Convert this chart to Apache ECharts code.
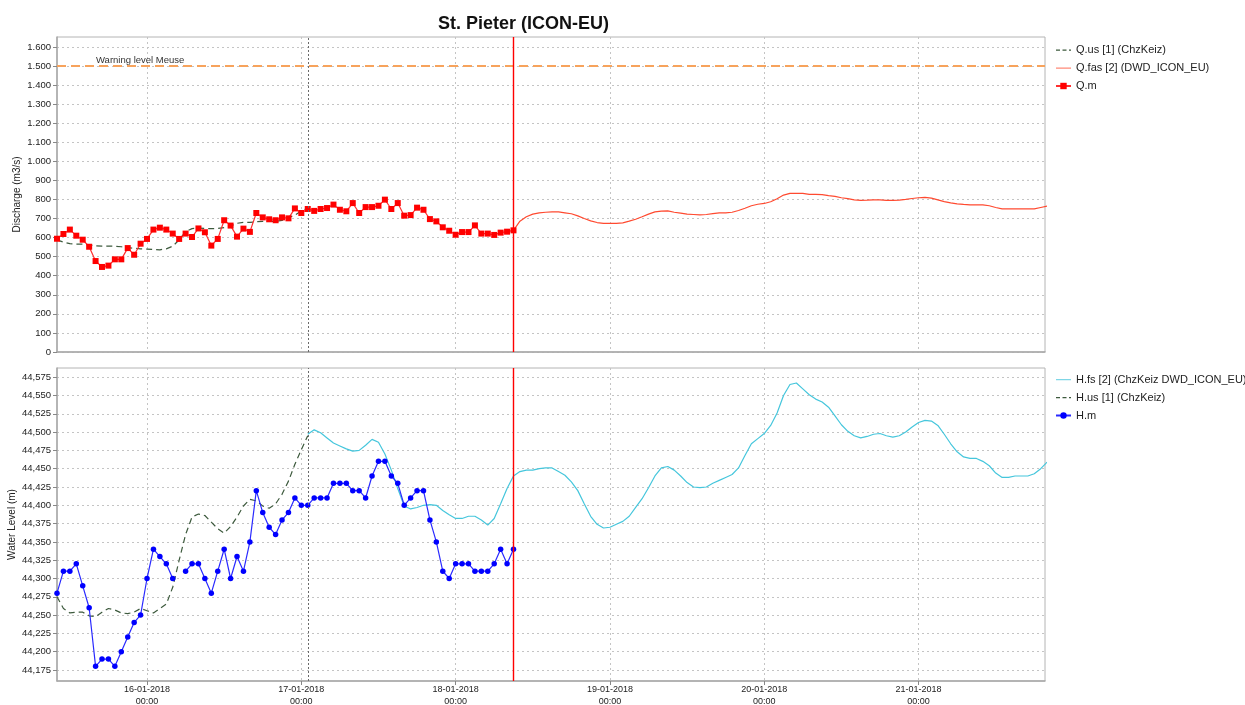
<!DOCTYPE html>
<html>
<head>
<meta charset="utf-8">
<script src="https://cdn.jsdelivr.net/npm/echarts@6/dist/echarts.min.js"></script>
<style>html,body{margin:0;padding:0;background:#fff}#c{width:1245px;height:705px}</style>
</head>
<body>
<div id="c"></div>
<script>
const HOUR = 3600000;
function t(d, h, m) { return new Date(2018, 0, d, h, m || 0).getTime(); }

// ---- time settings ----
const xMin = t(15, 10);
const xMax = t(21, 19, 40);
const measStart = t(15, 10);      // first measured / upstream value
const hfsStart = t(17, 1);        // start of H.fs forecast
const qfasStart = t(18, 9);       // start of Q.fas forecast
const nowTime = t(18, 9);         // red "now" line
const runTime = t(17, 1);         // dotted forecast-start line
const dayTicks = [t(16,0), t(17,0), t(18,0), t(19,0), t(20,0), t(21,0)];

// ---- tick labels ----
const dischargeTicks = [0,100,200,300,400,500,600,700,800,900,1000,1100,1200,1300,1400,1500,1600];
const levelTicks = [44.175,44.2,44.225,44.25,44.275,44.3,44.325,44.35,44.375,44.4,44.425,44.45,44.475,44.5,44.525,44.55,44.575];
const warningLevel = 1500;

// ---- discharge (m3/s), hourly ----
const qmValues = [594,619,642,610,589,552,477,446,453,486,
  486,545,510,568,593,642,652,642,621,593,
  621,603,648,628,558,593,691,663,605,647,
  630,729,706,696,691,706,701,753,729,750,
  740,750,755,773,746,738,781,729,760,760,
  767,799,750,781,715,718,757,746,697,685,
  654,636,615,629,629,664,621,621,614,626,
  631,638];
const qusValues = [588,576,568,566,566,562,557,555,555,555,
  552,548,544,541,540,538,536,541,555,588,
  632,647,650,648,647,648,652,660,675,680,
  680,683,685,685,685,690,705,718,740,755];
const qfasValues = [638,686,709,723,730,733,735,735,730,725,
  714,700,688,679,675,675,675,677,686,696,
  709,723,735,739,740,733,728,723,721,719,
  721,726,730,730,733,742,754,767,775,779,
  788,804,823,832,832,832,827,827,825,820,
  816,809,804,798,795,796,798,798,795,795,
  796,800,805,809,811,807,798,789,782,777,
  774,772,772,772,767,758,751,751,751,751,
  751,751,758,765];

// ---- water level (m), hourly ----
const hmValues = [44.28,44.31,44.31,44.32,44.29,44.26,44.18,44.19,44.19,44.18,
  44.20,44.22,44.24,44.25,44.30,44.34,44.33,44.32,44.30,null,
  44.31,44.32,44.32,44.30,44.28,44.31,44.34,44.30,44.33,44.31,
  44.35,44.42,44.39,44.37,44.36,44.38,44.39,44.41,44.40,44.40,
  44.41,44.41,44.41,44.43,44.43,44.43,44.42,44.42,44.41,44.44,
  44.46,44.46,44.44,44.43,44.40,44.41,44.42,44.42,44.38,44.35,
  44.31,44.30,44.32,44.32,44.32,44.31,44.31,44.31,44.32,44.34,
  44.32,44.34];
const husValues = [44.275,44.259,44.253,44.254,44.254,44.249,44.248,44.254,44.259,44.257,
  44.253,44.252,44.254,44.259,44.256,44.253,44.259,44.265,44.288,44.325,
  44.360,44.384,44.388,44.386,44.377,44.368,44.362,44.371,44.384,44.399,
  44.408,44.406,44.399,44.396,44.402,44.415,44.433,44.456,44.476,44.495];
const hfsValues = [44.497,44.503,44.499,44.492,44.485,44.481,44.477,44.474,44.475,44.482,
  44.490,44.486,44.470,44.448,44.423,44.399,44.395,44.397,44.400,44.401,
  44.400,44.393,44.387,44.382,44.382,44.385,44.385,44.380,44.373,44.382,
  44.402,44.423,44.440,44.446,44.448,44.448,44.450,44.451,44.451,44.446,
  44.441,44.432,44.420,44.402,44.385,44.374,44.369,44.370,44.374,44.378,
  44.385,44.397,44.409,44.424,44.440,44.451,44.453,44.448,44.440,44.431,
  44.425,44.424,44.425,44.430,44.434,44.438,44.442,44.451,44.468,44.484,
  44.491,44.498,44.509,44.526,44.550,44.565,44.567,44.559,44.551,44.545,
  44.541,44.534,44.522,44.510,44.501,44.495,44.492,44.494,44.497,44.498,
  44.495,44.493,44.495,44.500,44.507,44.513,44.516,44.515,44.509,44.497,
  44.484,44.473,44.466,44.464,44.464,44.460,44.454,44.444,44.438,44.438,
  44.440,44.440,44.440,44.443,44.450,44.459];

function pairs(start, vals) { return vals.map((v, i) => [start + i * HOUR, v]); }
function pad(n) { return (n < 10 ? '0' : '') + n; }
function fmtDate(v) {
  const d = new Date(v);
  return pad(d.getDate()) + '-' + pad(d.getMonth() + 1) + '-' + d.getFullYear() + '\n' + pad(d.getHours()) + ':' + pad(d.getMinutes());
}
function fmtThousands(v) {
  const s = String(Math.round(v));
  return s.length > 3 ? s.slice(0, s.length - 3) + '.' + s.slice(-3) : s;
}
function fmtLevel(v) { return v.toFixed(3).replace('.', ','); }

const FONT = 'Liberation Sans';
const gridLine = { show: true, lineStyle: { color: '#c4c4c4', type: [2, 3], width: 1 } };
const axisLineStyle = { show: true, lineStyle: { color: '#a8a8a8', width: 1.5 } };

// legend glyphs (line only / dashed line); a hairline at x=0 keeps the full icon box
const ICON_LINE = 'path://M0,0h0.01v8h-0.01zM0,3.4h15v1.3h-15z';
const ICON_DASH = 'path://M0,0h0.01v8h-0.01zM0,3.4h4v1.3h-4zM6.5,3.4h4v1.3h-4zM13,3.4h2v1.3h-2z';

function nowLine() {
  return {
    silent: true, symbol: 'none', z: 10, label: { show: false },
    lineStyle: { color: '#ff0000', type: 'solid', width: 1.4, opacity: 1 },
    emphasis: { disabled: true },
    data: [{ xAxis: nowTime }]
  };
}
function runLine() {
  return {
    silent: true, symbol: 'none', z: 9, label: { show: false },
    lineStyle: { color: '#6a6a6a', type: [2, 2], width: 1, opacity: 1 },
    emphasis: { disabled: true },
    data: [{ xAxis: runTime }]
  };
}

const legendBase = {
  orient: 'vertical', left: 1055, padding: 0, itemWidth: 15, itemHeight: 8, itemGap: 7,
  textStyle: { fontFamily: FONT, fontSize: 11, color: '#222' }
};

const option = {
  animation: false,
  backgroundColor: '#ffffff',
  title: {
    text: 'St. Pieter (ICON-EU)', left: 433, top: 10,
    textStyle: { fontFamily: FONT, fontWeight: 'bold', fontSize: 18, color: '#111' }
  },
  legend: [
    Object.assign({}, legendBase, {
      top: 44.5,
      data: [
        { name: 'Q.us [1] (ChzKeiz)', icon: ICON_DASH },
        { name: 'Q.fas [2] (DWD_ICON_EU)', icon: ICON_LINE },
        { name: 'Q.m' }
      ]
    }),
    Object.assign({}, legendBase, {
      top: 374,
      data: [
        { name: 'H.fs [2] (ChzKeiz DWD_ICON_EU)', icon: ICON_LINE },
        { name: 'H.us [1] (ChzKeiz)', icon: ICON_DASH },
        { name: 'H.m' }
      ]
    })
  ],
  grid: [
    { left: 57, top: 37, width: 988, height: 315, show: true, borderColor: '#b4b4b4', borderWidth: 1, outerBoundsMode: 'none', containLabel: false },
    { left: 57, top: 368, width: 988, height: 313, show: true, borderColor: '#b4b4b4', borderWidth: 1, outerBoundsMode: 'none', containLabel: false }
  ],
  xAxis: [
    {
      type: 'value', gridIndex: 0, min: xMin, max: xMax,
      axisLine: axisLineStyle,
      axisTick: { show: false, customValues: dayTicks },
      axisLabel: { show: false, customValues: dayTicks },
      splitLine: gridLine
    },
    {
      type: 'value', gridIndex: 1, min: xMin, max: xMax,
      axisLine: axisLineStyle,
      axisTick: { show: true, length: 4, lineStyle: { color: '#888' }, customValues: dayTicks },
      axisLabel: {
        customValues: dayTicks, formatter: fmtDate, fontFamily: FONT, fontSize: 9,
        lineHeight: 12, color: '#222', margin: 3, hideOverlap: false
      },
      splitLine: gridLine
    }
  ],
  yAxis: [
    {
      type: 'value', gridIndex: 0, min: 0, max: 1652,
      name: 'Discharge (m3/s)', nameLocation: 'middle', nameGap: 35, nameMoveOverlap: false,
      nameTextStyle: { fontFamily: FONT, fontSize: 10, color: '#222' },
      axisLine: axisLineStyle,
      axisTick: { show: true, length: 4, lineStyle: { color: '#888' }, customValues: dischargeTicks },
      axisLabel: { customValues: dischargeTicks, formatter: fmtThousands, fontFamily: FONT, fontSize: 9.5, color: '#222', margin: 6 },
      splitLine: gridLine
    },
    {
      type: 'value', gridIndex: 1, min: 44.16, max: 44.5875,
      name: 'Water Level (m)', nameLocation: 'middle', nameGap: 40, nameMoveOverlap: false,
      nameTextStyle: { fontFamily: FONT, fontSize: 10, color: '#222' },
      axisLine: axisLineStyle,
      axisTick: { show: true, length: 4, lineStyle: { color: '#888' }, customValues: levelTicks },
      axisLabel: { customValues: levelTicks, formatter: fmtLevel, fontFamily: FONT, fontSize: 9.5, color: '#222', margin: 6 },
      splitLine: gridLine
    }
  ],
  series: [
    {
      name: 'Q.us [1] (ChzKeiz)', type: 'line', xAxisIndex: 0, yAxisIndex: 0,
      data: pairs(measStart, qusValues), symbol: 'none',
      lineStyle: { color: '#3d5a3d', width: 1.2, type: [6, 4] }, itemStyle: { color: '#3d5a3d' },
      markLine: {
        silent: true, symbol: 'none',
        data: [{ yAxis: warningLevel, name: 'Warning level Meuse' }],
        lineStyle: { color: '#f7a35c', type: [9, 5], width: 2 },
        label: {
          show: true, position: 'insideStartTop', formatter: 'Warning level Meuse',
          fontFamily: FONT, fontSize: 9.5, color: '#333', padding: [0, 0, 0, 38], distance: 1
        }
      }
    },
    {
      name: 'Q.fas [2] (DWD_ICON_EU)', type: 'line', xAxisIndex: 0, yAxisIndex: 0,
      data: pairs(qfasStart, qfasValues), symbol: 'none',
      lineStyle: { color: '#ff4a30', width: 1.2 }, itemStyle: { color: '#ff8a78' },
      markLine: runLine()
    },
    {
      name: 'Q.m', type: 'line', xAxisIndex: 0, yAxisIndex: 0,
      data: pairs(measStart, qmValues), symbol: 'rect', symbolSize: 6,
      lineStyle: { color: '#ff3030', width: 1.2 }, itemStyle: { color: '#ff0000' },
      markLine: nowLine()
    },
    {
      name: 'H.fs [2] (ChzKeiz DWD_ICON_EU)', type: 'line', xAxisIndex: 1, yAxisIndex: 1,
      data: pairs(hfsStart, hfsValues), symbol: 'none',
      lineStyle: { color: '#45c6dc', width: 1.2 }, itemStyle: { color: '#7fd6e6' },
      markLine: runLine()
    },
    {
      name: 'H.us [1] (ChzKeiz)', type: 'line', xAxisIndex: 1, yAxisIndex: 1,
      data: pairs(measStart, husValues), symbol: 'none',
      lineStyle: { color: '#3d5a3d', width: 1.2, type: [6, 4] }, itemStyle: { color: '#3d5a3d' }
    },
    {
      name: 'H.m', type: 'line', xAxisIndex: 1, yAxisIndex: 1,
      data: pairs(measStart, hmValues), symbol: 'circle', symbolSize: 5.5, connectNulls: false,
      lineStyle: { color: '#2a2aff', width: 1.2 }, itemStyle: { color: '#0000ff' },
      markLine: nowLine()
    }
  ]
};

const chart = echarts.init(document.getElementById('c'), null, { renderer: 'canvas' });
chart.setOption(option);
</script>
</body>
</html>
